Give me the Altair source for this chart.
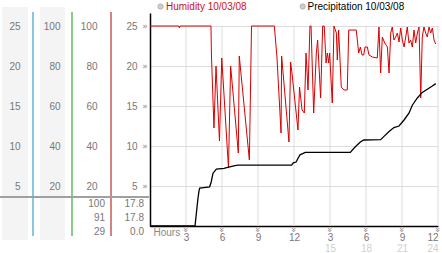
import altair as alt
import pandas as pd

# ---------------- data ----------------
hum_hours = [0, 2.4, 2.45, 2.5, 5.08, 5.12, 5.33, 5.5, 5.79, 5.98, 6.54, 6.72, 7.36, 7.44,
             8.28, 8.46, 10.36, 10.58, 10.92, 10.97, 11.58, 11.72, 11.83, 12.33, 12.46,
             12.67, 12.86, 13.0, 13.17, 13.33, 13.42, 13.64, 13.86, 13.97, 14.22, 14.39,
             14.52, 14.67, 14.78, 14.89, 14.97, 15.19, 15.33, 15.53, 15.61, 15.72, 15.94,
             16.17, 16.44, 16.56, 17.19, 17.39, 17.53, 17.67, 17.81, 17.92, 18.11, 18.25,
             18.53, 18.94, 19.08, 19.22, 19.36, 19.56, 19.78, 19.92, 20.06, 20.19, 20.33,
             20.47, 20.61, 20.75, 20.89, 21.03, 21.17, 21.31, 21.44, 21.58, 21.72, 21.86,
             22.0, 22.14, 22.28, 22.42, 22.56, 22.69, 22.83, 22.97, 23.11, 23.25, 23.39,
             23.53, 23.67, 23.81]
humidity = [100, 100, 99, 100, 100, 85.5, 49, 80, 42.5, 84, 29, 80, 36.5, 85,
            33, 100, 100, 84.5, 46.5, 85, 42, 82, 76.5, 48, 69.5,
            58, 56.5, 86.5, 68, 100, 100, 56.5, 86.5, 93, 64, 100,
            100, 81.5, 86.5, 81.5, 86.5, 61.5, 100, 96.5, 83, 98, 69.5,
            68, 68, 98, 98, 86.5, 89.5, 85.5, 85.5, 89.5, 89.5, 85.5,
            84.5, 84, 99.5, 76.5, 94.5, 91.5, 89.5, 76.5, 96.5, 99.5, 93,
            94.5, 96.5, 92, 99, 93, 89.5, 94.5, 99.5, 91.5, 93, 89.5,
            98, 91.5, 96.5, 99.5, 64, 94.5, 99.5, 96.5, 94.5, 99.5, 96.5,
            99, 93, 91]

precip_hours = [0, 3.75, 4.0, 4.1, 4.15, 4.97, 5.1, 5.25, 5.53, 6.17, 6.39, 7.08, 7.36,
                11.8, 11.94, 12.17, 12.5, 12.94, 16.69, 17.11, 17.53, 17.81, 19.22, 19.5,
                19.92, 20.33, 20.75, 21.17, 21.58, 21.86, 22.28, 22.69, 23.11, 23.53, 23.81]
precip = [0, 0, 3.5, 4.5, 4.75, 4.9, 5.5, 6.6, 7.1, 7.2, 7.3, 7.55, 7.6,
          7.6, 7.9, 8.0, 8.9, 9.2, 9.2, 9.9, 10.5, 10.75, 10.8, 11.2,
          11.8, 12.3, 12.5, 13.25, 14.1, 15.1, 16.0, 16.7, 17.1, 17.5, 17.8]

unit_ticks = [5, 10, 15, 20, 25]
pct_ticks = [20, 40, 60, 80, 100]
hour_ticks = [3, 6, 9, 12, 15, 18, 21, 24]
pm_ticks = [15, 18, 21, 24]
legend_names = ["Humidity 10/03/08", "Precipitation 10/03/08"]
hum_stats = [100, 91, 29]
precip_stats = [17.8, 17.8, 0.0]

# ---------------- styling ----------------
FONT = "Liberation Sans"
U_MAX = 26.625          # top of plot in mm units
P_MAX = U_MAX * 4       # same height in percent units
LABEL = "#777777"
RED = "#d80000"
GLYPH = "\u00bb"

hum_df = pd.DataFrame({"hour": hum_hours, "humidity": humidity})
pre_df = pd.DataFrame({"hour": precip_hours, "precip": precip})
grid_df = pd.DataFrame({"hour": hour_ticks})
unit_df = pd.DataFrame({"v": unit_ticks})
stats_df = pd.DataFrame({"row": [0, 1, 2], "hum": hum_stats, "pre": precip_stats})
deco = pd.DataFrame({"k": [0]})


def xs():
    return alt.Scale(domain=[0, 24], nice=False, zero=False)


def ys_u():
    return alt.Scale(domain=[0, U_MAX], nice=False)


def ys_p():
    return alt.Scale(domain=[0, P_MAX], nice=False)


def yaxis(values, offset, pad, **extra):
    kw = dict(values=values, orient="left", offset=offset, ticks=False, grid=False,
              domain=False, labelPadding=pad, labelFont=FONT, labelFontSize=10,
              labelColor=LABEL, title=None, labelFlush=False, labelOverlap=False,
              zindex=1)
    kw.update(extra)
    return alt.Axis(**kw)


# background bands and separators
band1 = alt.Chart(deco).mark_rect(color="#f4f4f4").encode(
    x=alt.value(-148), x2=alt.value(-122), y=alt.value(-6), y2=alt.value(227))
band2 = alt.Chart(deco).mark_rect(color="#f4f4f4").encode(
    x=alt.value(-110), x2=alt.value(-85), y=alt.value(-6), y2=alt.value(227))
sep_teal = alt.Chart(deco).mark_rule(color="#3b9fcc", strokeWidth=1.2).encode(
    x=alt.value(-117), y=alt.value(-1), y2=alt.value(223))
sep_green = alt.Chart(deco).mark_rule(color="#3aa83a", strokeWidth=1.2).encode(
    x=alt.value(-78), y=alt.value(-1), y2=alt.value(223))
sep_red = alt.Chart(deco).mark_rule(color="#b83030", strokeWidth=1.2).encode(
    x=alt.value(-39), y=alt.value(-1), y2=alt.value(223))
hline = alt.Chart(deco).mark_rule(color="#a0a0a0", strokeWidth=2).encode(
    x=alt.value(-150), x2=alt.value(-1), y=alt.value(184))

# vertical grid lines
vgrid = alt.Chart(grid_df).mark_rule(color="#dcdcdc", strokeWidth=1).encode(
    x=alt.X("hour:Q", scale=xs(), axis=None),
    y=alt.Y(datum=0, scale=ys_u(), axis=None),
    y2=alt.Y2(datum=25),
)

# small tick glyphs beside the y labels and above the hour labels
yglyph = alt.Chart(unit_df).mark_text(
    font="DejaVu Sans", fontSize=9, color="#8a8a8a",
    align="center", baseline="middle").encode(
    x=alt.value(-5),
    y=alt.Y("v:Q", scale=ys_u(), axis=None),
    text=alt.value(GLYPH),
)
xglyph = alt.Chart(grid_df).mark_text(
    font="DejaVu Sans", fontSize=9, color="#8a8a8a", angle=90,
    align="center", baseline="middle").encode(
    x=alt.X("hour:Q", scale=xs(), axis=None),
    y=alt.value(217),
    text=alt.value(GLYPH),
)

# humidity line (percent scale) with its axis column
hum_line = alt.Chart(hum_df).mark_line(color=RED, strokeWidth=1, interpolate="linear").encode(
    x=alt.X("hour:Q", scale=xs(), axis=None),
    y=alt.Y("humidity:Q", scale=ys_p(), axis=yaxis(pct_ticks, 39, 14)),
)

# precipitation line (mm scale) with main axes
main_x_axis = alt.Axis(
    values=hour_ticks, orient="bottom", grid=False, ticks=False, domain=True,
    domainColor="black", domainWidth=1.5, labelPadding=6, labelFont=FONT,
    labelFontSize=10, labelColor=LABEL, labelOverlap=False,
    labelExpr="datum.value % 12 == 0 ? '12' : '' + (datum.value % 12)",
    title="Hours", titleX=3, titleY=9, titleAlign="left", titleBaseline="alphabetic",
    titleAngle=0, titleFont=FONT, titleFontSize=10, titleFontWeight="normal",
    titleColor="#888888",
)
main_y_axis = alt.Axis(
    values=unit_ticks, orient="left", grid=True, gridColor="#dcdcdc", ticks=False,
    domain=True, domainColor="black", domainWidth=1.5, labelPadding=13,
    labelFont=FONT, labelFontSize=10, labelColor=LABEL, title=None,
    labelFlush=False, labelOverlap=False,
)
pre_line = alt.Chart(pre_df).mark_line(color="black", strokeWidth=1.3).encode(
    x=alt.X("hour:Q", scale=xs(), axis=main_x_axis),
    y=alt.Y("precip:Q", scale=ys_u(), axis=main_y_axis),
)

# extra axis columns (invisible marks)
col2 = alt.Chart(hum_df).mark_point(opacity=0).encode(
    x=alt.X("hour:Q", scale=xs(), axis=None),
    y=alt.Y("humidity:Q", scale=ys_p(), axis=yaxis(pct_ticks, 78, 12)),
)
pm_axis = alt.Axis(
    values=pm_ticks, orient="bottom", grid=False, ticks=False, domain=False,
    labelPadding=17, labelFont=FONT, labelFontSize=10, labelColor="#cfcfcf",
    labelExpr="'' + datum.value", title=None, labelOverlap=False,
)
col1 = alt.Chart(pre_df).mark_point(opacity=0).encode(
    x=alt.X("hour:Q", scale=xs(), axis=pm_axis),
    y=alt.Y("precip:Q", scale=ys_u(), axis=yaxis(unit_ticks, 117, 13)),
)

# summary values below the axis columns
hum_stats_t = alt.Chart(stats_df).mark_text(
    align="right", baseline="middle", font=FONT, fontSize=10, color=LABEL).encode(
    x=alt.value(-45),
    y=alt.Y("row:O", scale=alt.Scale(range=[191, 219], padding=0), axis=None),
    text=alt.Text("hum:Q", format="d"),
)
pre_stats_t = alt.Chart(stats_df).mark_text(
    align="right", baseline="middle", font=FONT, fontSize=10, color=LABEL).encode(
    x=alt.value(-6),
    y=alt.Y("row:O", scale=alt.Scale(range=[191, 219], padding=0), axis=None),
    text=alt.Text("pre:Q", format=".1f"),
)

# legend
leg_df1 = pd.DataFrame({"name": [legend_names[0]]})
leg_df2 = pd.DataFrame({"name": [legend_names[1]]})
leg_dot1 = alt.Chart(leg_df1).mark_point(shape="circle", filled=True, size=28,
                                          color="#b8b8b8", stroke="#8a8a8a", strokeWidth=0.8).encode(
    x=alt.value(10.5), y=alt.value(-6.5))
leg_txt1 = alt.Chart(leg_df1).mark_text(align="left", baseline="middle", font=FONT,
                                        fontSize=10, color="#cc1111").encode(
    x=alt.value(16), y=alt.value(-6), text="name:N")
leg_dot2 = alt.Chart(leg_df2).mark_point(shape="circle", filled=True, size=28,
                                          color="#b8b8b8", stroke="#8a8a8a", strokeWidth=0.8).encode(
    x=alt.value(152.7), y=alt.value(-6.5))
leg_txt2 = alt.Chart(leg_df2).mark_text(align="left", baseline="middle", font=FONT,
                                        fontSize=10, color="black").encode(
    x=alt.value(157.5), y=alt.value(-6), text="name:N")

chart = alt.layer(
    band1, band2, sep_teal, sep_green, sep_red, hline, vgrid,
    col1, col2, hum_line, pre_line, yglyph, xglyph,
    hum_stats_t, pre_stats_t, leg_dot1, leg_txt1, leg_dot2, leg_txt2,
).resolve_scale(
    x="independent", y="independent"
).properties(
    width=288, height=213,
    autosize=alt.AutoSizeParams(type="none"),
    padding={"left": 150, "top": 13, "right": 4, "bottom": 27},
    background="white",
).configure_view(stroke=None)

chart.save("out.html", embed_options={"renderer": "svg", "actions": False})
